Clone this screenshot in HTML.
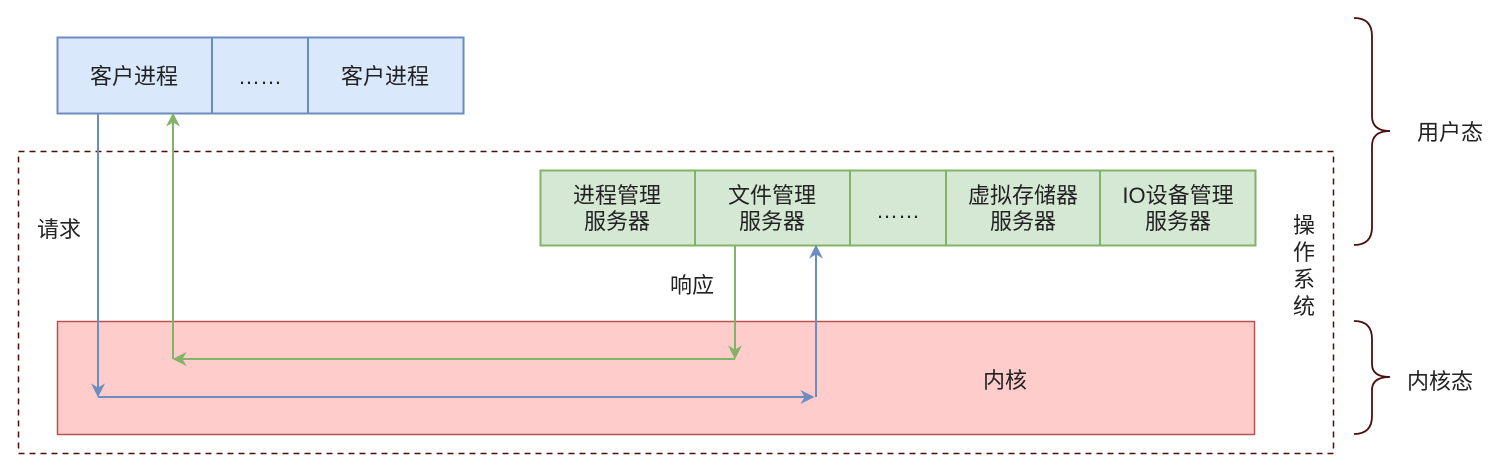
<!DOCTYPE html>
<html><head><meta charset="utf-8"><style>
html,body{margin:0;padding:0;background:#fff;}
svg{display:block;}
text{font-family:"Liberation Sans","Noto Sans CJK SC",sans-serif;font-size:22px;fill:#222;}
</style></head><body>
<svg width="1506" height="476" viewBox="0 0 1506 476" xmlns="http://www.w3.org/2000/svg">
<defs>
<marker id="ab" viewBox="0 0 10 10" refX="9" refY="5" markerWidth="14" markerHeight="14" markerUnits="userSpaceOnUse" orient="auto"><path d="M0,0 L10,5 L0,10 L3,5 z" fill="#6c8ebf"/></marker>
<marker id="ag" viewBox="0 0 10 10" refX="9" refY="5" markerWidth="14" markerHeight="14" markerUnits="userSpaceOnUse" orient="auto"><path d="M0,0 L10,5 L0,10 L3,5 z" fill="#82b366"/></marker>
</defs>
<rect x="18.5" y="151.5" width="1315" height="302" fill="none" stroke="#4a0f0f" stroke-width="1.5" stroke-dasharray="6,5"/>
<rect x="57.5" y="37.5" width="406" height="76" fill="#dae8fc" stroke="#6c8ebf" stroke-width="2"/>
<line x1="212" y1="37" x2="212" y2="113" stroke="#6c8ebf" stroke-width="2"/>
<line x1="308" y1="37" x2="308" y2="113" stroke="#6c8ebf" stroke-width="2"/>
<text x="134" y="84" text-anchor="middle">客户进程</text>
<text x="260" y="84" text-anchor="middle">……</text>
<text x="385" y="84" text-anchor="middle">客户进程</text>
<rect x="57.5" y="321.5" width="1197" height="113" fill="#ffcccc" stroke="#b85450" stroke-width="1.5"/>
<text x="1005" y="388" text-anchor="middle">内核</text>
<rect x="540.5" y="170.5" width="715" height="75" fill="#d5e8d4" stroke="#82b366" stroke-width="2"/>
<line x1="695" y1="170" x2="695" y2="245" stroke="#82b366" stroke-width="2"/>
<line x1="850" y1="170" x2="850" y2="245" stroke="#82b366" stroke-width="2"/>
<line x1="946" y1="170" x2="946" y2="245" stroke="#82b366" stroke-width="2"/>
<line x1="1100" y1="170" x2="1100" y2="245" stroke="#82b366" stroke-width="2"/>
<text x="617" y="203" text-anchor="middle">进程管理</text><text x="617" y="229" text-anchor="middle">服务器</text>
<text x="772" y="203" text-anchor="middle">文件管理</text><text x="772" y="229" text-anchor="middle">服务器</text>
<text x="898" y="218" text-anchor="middle">……</text>
<text x="1023" y="203" text-anchor="middle">虚拟存储器</text><text x="1023" y="229" text-anchor="middle">服务器</text>
<text x="1178" y="203" text-anchor="middle">IO设备管理</text><text x="1178" y="229" text-anchor="middle">服务器</text>
<polyline points="98,113 98,396" fill="none" stroke="#6c8ebf" stroke-width="2" marker-end="url(#ab)"/>
<polyline points="98,397 813,397" fill="none" stroke="#6c8ebf" stroke-width="2" marker-end="url(#ab)"/>
<polyline points="816,397 816,246" fill="none" stroke="#6c8ebf" stroke-width="2" marker-end="url(#ab)"/>
<polyline points="735,245 735,358" fill="none" stroke="#82b366" stroke-width="2" marker-end="url(#ag)"/>
<polyline points="735,359 174,359" fill="none" stroke="#82b366" stroke-width="2" marker-end="url(#ag)"/>
<polyline points="173,359 173,114" fill="none" stroke="#82b366" stroke-width="2" marker-end="url(#ag)"/>
<text x="37" y="237">请求</text>
<text x="670" y="293">响应</text>
<text x="1304" y="233" text-anchor="middle">操</text>
<text x="1304" y="260" text-anchor="middle">作</text>
<text x="1304" y="287" text-anchor="middle">系</text>
<text x="1304" y="314" text-anchor="middle">统</text>
<path d="M1354,18 Q1372,18 1372,36 L1372,116 Q1372,131 1390,131 Q1372,131 1372,146 L1372,227 Q1372,245 1354,245" fill="none" stroke="#4a0f0f" stroke-width="1.8"/>
<path d="M1354,321 Q1372,321 1372,339 L1372,364 Q1372,377 1390,377 Q1372,377 1372,390 L1372,416 Q1372,434 1354,434" fill="none" stroke="#4a0f0f" stroke-width="1.8"/>
<text x="1417" y="140">用户态</text>
<text x="1407" y="389">内核态</text>
</svg>
</body></html>
